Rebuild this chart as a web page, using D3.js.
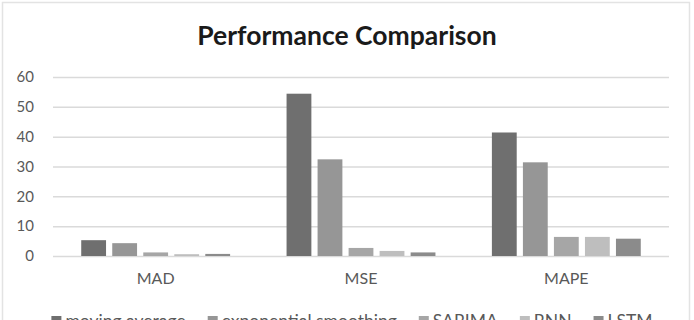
<!DOCTYPE html>
<html>
<head>
<meta charset="utf-8">
<script src="https://cdn.jsdelivr.net/npm/d3@7"></script>
<style>
  body { margin: 0; background: #fff; }
  svg { display: block; font-family: Lato, "Open Sans", sans-serif; }
</style>
</head>
<body>
<svg id="chart" width="694" height="320"></svg>
<script>
const WIDTH = 694;
const HEIGHT = 320;
const PLOT_LEFT = 53;
const PLOT_RIGHT = 669;
const PLOT_TOP = 77;
const PLOT_BOT = 256;
const TEXT_COLOR = "#595959";

// data
const categories = ["MAD", "MSE", "MAPE"];
const seriesNames = ["moving average", "exponential smoothing", "SARIMA", "RNN", "LSTM"];
const movingAverage = [5.3, 54.4, 41.4];
const expSmoothing = [4.3, 32.4, 31.4];
const sarima = [1.2, 2.7, 6.4];
const rnn = [0.6, 1.7, 6.4];
const lstm = [0.7, 1.2, 5.8];
const yTicks = [0, 10, 20, 30, 40, 50, 60];
const seriesColors = ["#6f6f6f", "#969696", "#a6a6a6", "#bebebe", "#8b8b8b"];

const seriesValues = [movingAverage, expSmoothing, sarima, rnn, lstm];

var svg = d3.select("#chart");

// chart border
svg.append("rect")
	.attr("x", 2.5)
	.attr("y", 2.5)
	.attr("width", 687)
	.attr("height", 330)
	.attr("fill", "#fff")
	.attr("stroke", "#e3e3e3")
	.attr("stroke-width", 1.5);

// scales
var x0 = d3.scaleBand().domain(categories).range([PLOT_LEFT, PLOT_RIGHT]);
var x1 = d3.scaleBand().domain(seriesNames)
	.range([0, x0.bandwidth()])
	.paddingInner(0.2)
	.paddingOuter(0.91);
var y = d3.scaleLinear().domain([0, 60]).range([PLOT_BOT, PLOT_TOP]);

// title
svg.append("text")
	.attr("x", 347)
	.attr("y", 45)
	.attr("text-anchor", "middle")
	.attr("font-size", "26.5px")
	.attr("font-weight", "bold")
	.attr("fill", "#1a1a1a")
	.text("Performance Comparison");

// gridlines
svg.append("g")
	.attr("transform", "translate(" + PLOT_LEFT + ",0)")
	.call(d3.axisLeft(y).tickValues(yTicks).tickSize(-(PLOT_RIGHT - PLOT_LEFT)).tickFormat(""))
	.call(g => g.select(".domain").remove())
	.call(g => g.selectAll("line").attr("stroke", "#dadada").attr("stroke-width", 1.5));

// y tick labels
svg.append("g")
	.attr("transform", "translate(34,0)")
	.call(d3.axisLeft(y).tickValues(yTicks).tickSize(0).tickPadding(0))
	.call(g => g.select(".domain").remove())
	.call(g => g.selectAll("text")
		.attr("font-family", "Lato, sans-serif")
		.attr("font-size", "15px")
		.attr("fill", TEXT_COLOR));

// bars
var groups = svg.append("g").selectAll("g")
	.data(categories)
  .enter().append("g")
	.attr("transform", d => "translate(" + x0(d) + ",0)");

groups.selectAll("rect")
	.data((c, ci) => seriesNames.map((s, si) => ({ series: s, idx: si, value: seriesValues[si][ci] })))
  .enter().append("rect")
	.attr("x", d => x1(d.series))
	.attr("width", x1.bandwidth())
	.attr("y", d => y(d.value))
	.attr("height", d => y(0) - y(d.value))
	.attr("fill", d => seriesColors[d.idx]);

// category labels
svg.append("g")
	.attr("transform", "translate(0," + PLOT_BOT + ")")
	.call(d3.axisBottom(x0).tickSize(0).tickPadding(17))
	.call(g => g.select(".domain").remove())
	.call(g => g.selectAll("text")
		.attr("font-family", "Lato, sans-serif")
		.attr("font-size", "16px")
		.attr("fill", TEXT_COLOR));

// legend (cut off by the bottom edge, as in the reference)
var legend = svg.append("g");
var items = legend.selectAll("g")
	.data(seriesNames)
  .enter().append("g");
items.append("rect")
	.attr("width", 10)
	.attr("height", 10)
	.attr("y", -11)
	.attr("fill", (d, i) => seriesColors[i]);
items.append("text")
	.attr("x", 14)
	.attr("font-size", "17.5px")
	.attr("fill", TEXT_COLOR)
	.text(d => d);

var xpos = 0;
items.each(function(d) {
	var w = 14 + d3.select(this).select("text").node().getComputedTextLength();
	d3.select(this).attr("transform", "translate(" + xpos + ",0)");
	xpos += w + 22;
});
var total = xpos - 22;
legend.attr("transform", "translate(" + (352 - total / 2) + ",327)");
</script>
</body>
</html>
